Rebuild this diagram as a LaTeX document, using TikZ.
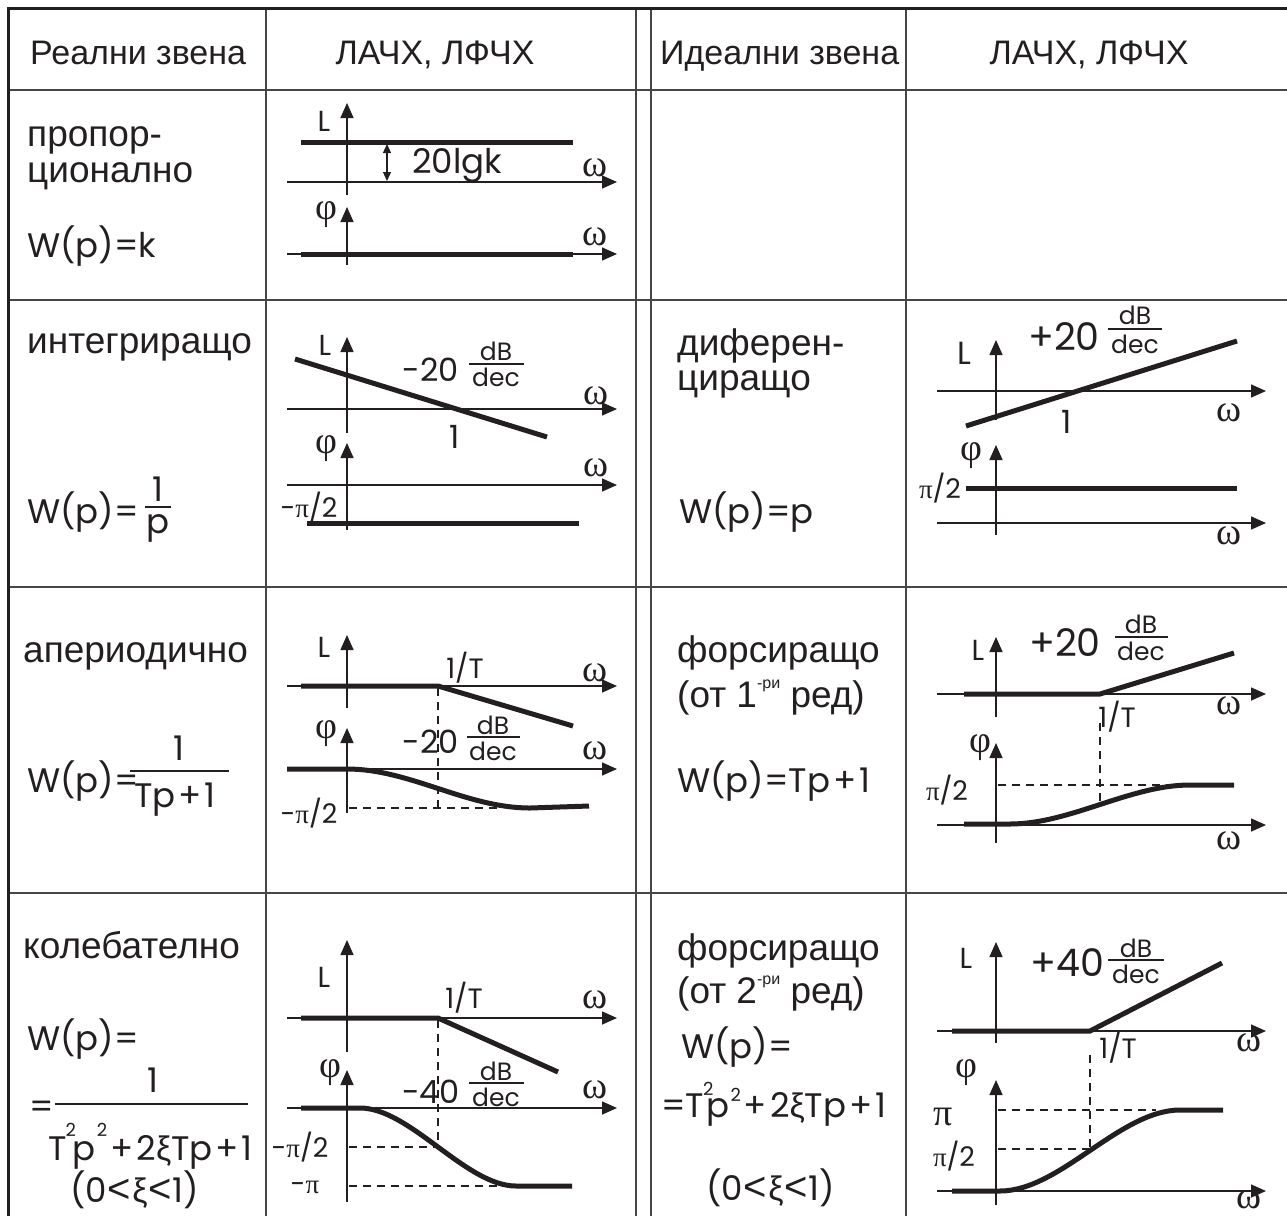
\documentclass[tikz,border=0pt]{standalone}
\usepackage{fontspec}
\setmainfont{Liberation Sans}
\newfontfamily\geo{Poppins}
\newfontfamily\grk{Liberation Serif}
\newfontfamily\lib{Liberation Sans}
\usetikzlibrary{arrows.meta}
\definecolor{ink}{RGB}{35,31,32}
\definecolor{gridc}{RGB}{70,70,70}
\newcommand\supri{\raisebox{19pt}{\fontsize{16}{18}\selectfont -ри}}
\newcommand\plS{\kern3pt+\kern3pt}
\newcommand\ltS{\kern1pt{\lib\fontsize{40}{40}\selectfont <}\kern1pt}
\newcommand\xiS{{\lib ξ}}
\newcommand\twoS[1]{\raisebox{#1}{\fontsize{18}{20}\selectfont 2}}
\begin{document}
\begin{tikzpicture}[x=1pt,y=-1pt,
 ax/.style={line width=1.5pt, draw=ink, -{Triangle[length=15pt,width=13pt]}},
 thk/.style={line width=5pt, draw=ink},
 dsh/.style={line width=1.5pt, draw=ink, dash pattern=on 8pt off 6pt},
 gridl/.style={line width=1.5pt, draw=gridc},
 barl/.style={line width=1.3pt, draw=ink},
 txt/.style={inner sep=0pt, text=ink},
 hd/.style={txt, font=\fontsize{34}{38}\selectfont},
 bd/.style={txt, font=\fontsize{37}{40}\selectfont},
 fm/.style={txt, font=\geo\fontsize{34}{38}\selectfont},
 gk/.style={txt, font=\grk\fontsize{38}{40}\selectfont},
 lb/.style={txt, font=\geo\fontsize{32}{36}\selectfont},
 lL/.style={txt, font=\geo\fontsize{29}{32}\selectfont},
 lT/.style={txt, font=\geo\fontsize{28}{32}\selectfont},
 lp/.style={txt, font=\geo\fontsize{27}{30}\selectfont},
 fr/.style={txt, font=\geo\fontsize{25}{27}\selectfont},
]
\useasboundingbox (0,0) rectangle (1287,1216);
\fill[white] (0,0) rectangle (1287,1216);
% ---------- table ----------
\foreach \yy in {90,300,587,893} \draw[gridl] (8,\yy) -- (1287,\yy);
\foreach \xx in {266,636,651,906} \draw[gridl] (\xx,8) -- (\xx,1216);
\draw[line width=3pt, draw=ink] (1287,8) -- (8,8) -- (8,1216);
% ---------- header ----------
\node[hd,anchor=base west] (h1) at (30,64) {Реални звена};
\node[hd,anchor=base] (h2) at (435,64) {ЛАЧХ, ЛФЧХ};
\node[hd,anchor=base west] (h3) at (660,64) {Идеални звена};
\node[hd,anchor=base] (h4) at (1089,64) {ЛАЧХ, ЛФЧХ};
% ---------- row 1 ----------
\node[bd,anchor=base west] (r1a) at (27,146) {пропор-};
\node[bd,anchor=base west] (r1b) at (27,182) {ционално};
\node[fm,anchor=base west] (r1c) at (27,257) {W(p)=k};
\draw[ax] (347,195) -- (347,103);
\draw[ax] (287,182) -- (617,182);
\draw[thk] (301,142) -- (573,142);
\draw[line width=1.2pt, draw=ink, {Triangle[length=9pt,width=8pt]}-{Triangle[length=9pt,width=8pt]}] (387,144) -- (387,181);
\node[lL] (r1L) at (324,121) {L};
\node[fm,anchor=base west] (r1k) at (412,173) {20lgk};
\node[gk] (r1w1) at (595,168) {ω};
\draw[ax] (347,265) -- (347,207);
\node[gk] (r1p) at (326,215) {φ};
\draw[ax] (287,254) -- (617,254);
\draw[thk] (301,254) -- (573,254);
\node[gk] (r1w2) at (595,237) {ω};
% ---------- row 2 left ----------
\node[bd,anchor=base west] (r2a) at (27,353) {интегриращо};
\node[fm,anchor=base west] (r2b) at (27,523) {W(p)=};
\node[fm,anchor=base] (r2n) at (158,501) {1};
\draw[barl] (145,507) -- (171,507);
\node[fm,anchor=base] (r2d) at (158,533) {\smash{p}};
\draw[ax] (347,433) -- (347,337);
\draw[ax] (287,409) -- (617,409);
\draw[thk] (295,359) -- (547,437);
\node[lL] (r2L) at (325,345) {L};
\node[lb] (r2s) at (431,370) {-20};
\node[fr] (r2db) at (496,351) {dB};
\draw[barl] (469,364) -- (524,364);
\node[fr] (r2dc) at (496,377) {dec};
\node[lb] (r2one) at (455,437) {1};
\node[gk] (r2w1) at (596,396) {ω};
\draw[ax] (347,530) -- (347,443);
\node[gk] (r2p) at (326,449) {φ};
\draw[ax] (287,485) -- (617,485);
\node[gk] (r2w2) at (596,468) {ω};
\node[lp] (r2pi) at (309,507) {-{\grk π}/2};
\draw[thk] (307,523) -- (579,523);
% ---------- row 2 right ----------
\node[bd,anchor=base west] (r2c) at (677,355) {диферен-};
\node[bd,anchor=base west] (r2e) at (677,390) {циращо};
\node[fm,anchor=base west] (r2f) at (679,523) {W(p)=p};
\draw[ax] (996,420) -- (996,340);
\draw[ax] (937,391) -- (1266,391);
\draw[thk] (966,426) -- (1237,341);
\node[lb] (r2L2) at (964,353) {L};
\node[fm,font=\geo\fontsize{38}{40}\selectfont] (r2s2) at (1064,337) {+20};
\node[fr] (r2db2) at (1135,315) {dB};
\draw[barl] (1108,329) -- (1162,329);
\node[fr] (r2dc2) at (1135,344) {dec};
\node[lb] (r2one2) at (1067,422) {1};
\node[gk] (r2w3) at (1229,413) {ω};
\draw[ax] (996,535) -- (996,445);
\node[gk] (r2p2) at (971,456) {φ};
\node[lp] (r2pi2) at (940,488) {{\grk π}/2};
\draw[thk] (966,488) -- (1237,488);
\draw[ax] (937,523) -- (1266,523);
\node[gk] (r2w4) at (1229,536) {ω};
% ---------- row 3 left ----------
\node[bd,anchor=base west] (r3a) at (23,662) {апериодично};
\node[fm,anchor=base west] (r3b) at (27,792) {W(p)=};
\node[fm,anchor=base] (r3n) at (179,760) {1};
\draw[barl] (130,771) -- (229,771);
\node[fm,anchor=base] (r3d) at (175,807) {Tp\plS 1};
\draw[ax] (347,708) -- (347,635);
\draw[ax] (287,686) -- (617,686);
\draw[thk] (301,686) -- (438,686) -- (573,726);
\node[lL] (r3L) at (324,647) {L};
\node[lT] (r3T) at (465,668) {1/T};
\node[gk] (r3w1) at (595,673) {ω};
\draw[dsh] (438,688) -- (438,808);
\node[lb] (r3s) at (431,742) {-20};
\node[fr] (r3db) at (493,725) {dB};
\draw[barl] (467,737) -- (520,737);
\node[fr] (r3dc) at (493,751) {dec};
\draw[ax] (347,813) -- (347,728);
\node[gk] (r3p) at (326,734) {φ};
\draw[ax] (287,769) -- (617,769);
\node[gk] (r3w2) at (595,751) {ω};
\draw[dsh] (349,808) -- (500,808);
\draw[thk] (287,769) -- (347,769) .. controls (410,769) and (466,808) .. (530,808) -- (589,806);
\node[lp] (r3pi) at (309,813) {-{\grk π}/2};
% ---------- row 3 right ----------
\node[bd,anchor=base west] (r3c) at (677,662) {форсиращо};
\node[bd,anchor=base west] (r3e) at (677,707) {(от 1\supri{} ред)};
\node[fm,anchor=base west] (r3f) at (677,792) {W(p)=Tp\plS 1};
\draw[ax] (996,717) -- (996,637);
\draw[ax] (937,694) -- (1266,694);
\draw[thk] (964,694) -- (1100,694) -- (1234,653);
\node[lL] (r3L2) at (978,650) {L};
\node[fm,font=\geo\fontsize{38}{40}\selectfont] (r3s2) at (1065,643) {+20};
\node[fr] (r3db2) at (1141,624) {dB};
\draw[barl] (1115,637) -- (1168,637);
\node[fr] (r3dc2) at (1141,651) {dec};
\node[gk] (r3w3) at (1229,706) {ω};
\node[lT] (r3T2) at (1117,717) {1/T};
\draw[dsh] (1100,723) -- (1100,802);
\draw[ax] (996,843) -- (996,743);
\node[gk] (r3p2) at (980,748) {φ};
\node[lp] (r3pi2) at (947,790) {{\grk π}/2};
\draw[dsh] (998,785) -- (1234,785);
\draw[thk] (964,824) -- (1010,824) .. controls (1070,824) and (1130,785) .. (1190,785) -- (1234,785);
\draw[ax] (937,825) -- (1266,825);
\node[gk] (r3w4) at (1229,841) {ω};
% ---------- row 4 left ----------
\node[bd,anchor=base west] (r4a) at (23,958) {колебателно};
\node[fm,anchor=base west] (r4b) at (27,1050) {W(p)=};
\node[fm] (r4eq) at (42,1110) {=};
\draw[barl] (55,1104) -- (248,1104);
\node[fm,anchor=base] (r4n) at (153,1092) {1};
\node[fm,anchor=base west] (r4den) at (48,1160) {T\kern-1pt\twoS{24pt}\kern-3pt p\kern1pt\twoS{24pt}\plS 2\xiS Tp\plS 1};
\node[fm,anchor=base west] (r4cond) at (70,1202) {(0\ltS\xiS\ltS 1)};
\draw[ax] (347,1052) -- (347,940);
\draw[ax] (287,1018) -- (617,1018);
\draw[thk] (301,1018) -- (438,1018) -- (558,1072);
\node[lL] (r4L) at (324,977) {L};
\node[lT] (r4T1) at (464,998) {1/T};
\node[gk] (r4w1) at (595,1000) {ω};
\draw[dsh] (438,1020) -- (438,1147);
\node[lb] (r4s) at (431,1092) {-40};
\node[fr] (r4db) at (496,1071) {dB};
\draw[barl] (469,1083) -- (524,1083);
\node[fr] (r4dc) at (496,1097) {dec};
\draw[ax] (347,1202) -- (347,1070);
\node[gk] (r4p) at (330,1073) {φ};
\draw[ax] (287,1108) -- (617,1108);
\node[gk] (r4w2) at (595,1090) {ω};
\draw[dsh] (349,1147) -- (438,1147);
\draw[dsh] (349,1186) -- (497,1186);
\draw[thk] (301,1108) -- (360,1108) .. controls (410,1108) and (466,1186) .. (516,1186) -- (572,1186);
\node[lp] (r4pi) at (300,1147) {-{\grk π}/2};
\node[lp] (r4pi1) at (305,1187) {-{\grk π}};
% ---------- row 4 right ----------
\node[bd,anchor=base west] (r4c) at (677,960) {форсиращо};
\node[bd,anchor=base west] (r4d) at (677,1003) {(от 2\supri{} ред)};
\node[fm,anchor=base west] (r4e) at (681,1058) {W(p)=};
\node[fm,anchor=base west] (r4f) at (661,1117) {=T\kern-1pt\twoS{22pt}\kern-7pt p\kern1pt\twoS{16pt}\plS 2\xiS Tp\plS 1};
\node[fm,anchor=base west] (r4cond2) at (706,1200) {(0\ltS\xiS\ltS 1)};
\draw[ax] (996,1043) -- (996,942);
\node[lL] (r4L2) at (966,958) {L};
\node[fm,font=\geo\fontsize{38}{40}\selectfont] (r4s2) at (1067,963) {+40};
\node[fr] (r4db2) at (1136,948) {dB};
\draw[barl] (1108,960) -- (1164,960);
\node[fr] (r4dc2) at (1136,974) {dec};
\draw[ax] (937,1031) -- (1266,1031);
\node[gk] (r4w3) at (1249,1043) {ω};
\draw[thk] (952,1031) -- (1090,1031) -- (1222,963);
\node[lT] (r4T2) at (1118,1048) {1/T};
\draw[dsh] (1090,1055) -- (1090,1149);
\draw[ax] (996,1205) -- (996,1080);
\node[gk] (r4p2) at (966,1073) {φ};
\node[gk] (r4pi2) at (943,1117) {π};
\draw[dsh] (998,1110) -- (1156,1110);
\node[lp] (r4pi3) at (954,1156) {{\grk π}/2};
\draw[dsh] (998,1149) -- (1090,1149);
\draw[thk] (952,1191) -- (1000,1191) .. controls (1060,1191) and (1120,1110) .. (1180,1110) -- (1223,1110);
\draw[ax] (937,1191) -- (1266,1191);
\node[gk] (r4w4) at (1249,1200) {ω};
\end{tikzpicture}
\end{document}
